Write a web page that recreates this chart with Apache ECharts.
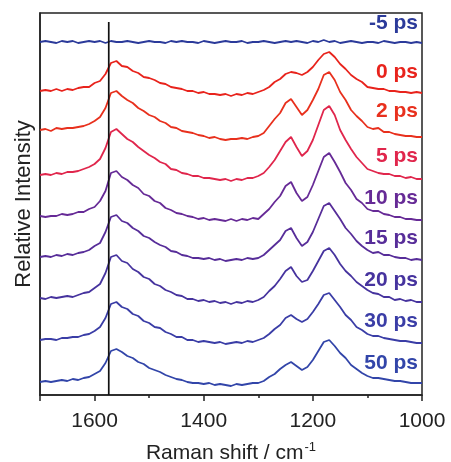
<!DOCTYPE html>
<html>
<head>
<meta charset="utf-8">
<script src="https://cdn.jsdelivr.net/npm/echarts@6/dist/echarts.min.js"></script>
<style>html,body{margin:0;padding:0;background:#fff}#c{width:451px;height:462px}</style>
</head>
<body>
<div id="c"></div>
<script>
// Raman shift grid (cm^-1)
var ramanShift = [1700,1690,1680,1670,1660,1650,1640,1630,1620,1610,
  1600,1590,1580,1570,1560,1550,1540,1530,1520,1510,
  1500,1490,1480,1470,1460,1450,1440,1430,1420,1410,
  1400,1390,1380,1370,1360,1350,1340,1330,1320,1310,
  1300,1290,1280,1270,1260,1250,1240,1230,1220,1210,
  1200,1190,1180,1170,1160,1150,1140,1130,1120,1110,
  1100,1090,1080,1070,1060,1050,1040,1030,1020,1010,1000];

var delayLabels = ['-5 ps','0 ps','2 ps','5 ps','10 ps','15 ps','20 ps','30 ps','50 ps'];
var traceColors = ['#2b3a9a','#e8231c','#e8301d','#e0264c','#662a96','#572d99','#46339e','#3a3da6','#3245a9'];
// vertical stacking offsets (relative intensity units)
var traceOffsets = [353,304,265,220,178,138,96,55,13];

// relative intensities for each delay
var int_m5 = [0,1,0,-1,1,0,1,-1,0,1, 0,1,-1,1,0,0,1,0,-1,0, 1,0,0,-1,1,0,1,0,0,-1, 1,0,-1,0,1,0,0,1,-1,0, 0,1,0,-1,0,1,0,1,0,-1, 1,0,2,0,1,-1,0,1,0,-1, 0,0,-1,1,0,-1,0,0,-1,0,-1];
var int_0 = [0,1,0,2,0,2,1,3,4,4, 8,10,17,28,30,25,24,20,18,14, 13,11,8,7,4,3,2,0,0,-2, -1,-3,-3,-4,-3,-5,-3,-4,-2,-3, -1,1,4,9,12,17,19,18,16,19, 24,31,37,39,34,27,22,16,12,9, 4,3,2,2,0,0,-1,-1,-2,-1,-2];
var int_2 = [0,1,-1,2,1,2,2,3,4,6, 9,13,22,37,39,34,30,27,22,19, 15,13,9,7,3,2,-1,-2,-3,-5, -6,-8,-7,-9,-10,-9,-9,-8,-9,-7, -6,-3,4,11,17,27,31,23,15,20, 30,41,55,58,50,38,30,20,14,9, 3,1,2,-2,-2,-4,-5,-6,-6,-7,-7];
var int_5 = [0,1,0,2,1,3,3,4,6,8, 11,16,27,43,46,41,36,33,28,24, 20,17,13,11,6,5,2,1,-1,-1, -3,-3,-4,-5,-4,-6,-4,-5,-3,-3, -1,2,8,15,24,33,38,28,19,24, 35,50,65,69,60,45,35,26,18,12, 6,4,2,1,1,-1,-1,-3,-2,-4,-4];
var int_10 = [1,0,1,1,3,2,3,5,5,8, 10,16,26,44,46,40,37,32,29,23, 21,16,14,9,7,4,3,1,0,-2, -1,-3,-2,-3,-4,-2,-4,-2,-3,-1, -2,3,8,15,21,31,35,24,16,20, 32,46,60,64,55,45,34,27,18,14, 8,6,6,3,2,0,0,-2,-2,-3,-3];
var int_15 = [0,1,0,2,1,3,2,4,5,7, 11,14,25,40,42,36,34,29,26,21, 19,15,12,10,6,5,2,1,-1,-1, -2,-1,-3,-2,-4,-3,-2,-3,-1,-2, -1,2,7,12,17,26,29,19,11,15, 25,38,51,54,46,38,29,23,16,11, 7,4,5,2,2,0,-1,-1,-3,-2,-3];
var int_20 = [1,0,2,1,2,3,2,4,6,7, 11,15,26,42,44,38,36,30,27,22, 20,15,13,9,7,4,3,0,0,-2, -1,-3,-2,-4,-3,-5,-3,-4,-2,-3, -1,2,8,13,20,28,32,23,17,19, 28,38,48,51,44,35,28,23,17,13, 9,6,5,2,2,-1,0,-2,-1,-3,-3];
var int_30 = [0,1,1,0,2,2,3,3,5,6, 9,13,22,36,38,33,31,26,24,19, 17,13,12,8,6,3,3,0,0,-2, -1,-2,-3,-2,-4,-3,-2,-3,-1,-2, 0,2,6,11,15,22,25,21,18,21, 28,36,45,47,40,33,25,20,13,10, 6,4,4,2,1,0,-1,-1,-2,-3,-3];
var int_50 = [0,1,0,1,2,1,3,2,4,5, 8,11,19,31,33,30,26,24,20,18, 14,12,10,7,5,3,2,0,-1,-1, -2,-1,-3,-2,-3,-4,-2,-3,-2,-1, -1,1,5,8,13,17,20,16,12,15, 22,31,40,42,36,29,24,17,13,9, 6,4,4,3,2,1,1,0,-1,-1,-1];

var intensities = [int_m5,int_0,int_2,int_5,int_10,int_15,int_20,int_30,int_50];

// reference band position and label height above each trace
var bandPosition = 1574;
var bandLineRange = [0, 373];
var labelLift = 19;

var FONT = 'Liberation Sans, Arial, Helvetica, sans-serif';
var series = [];
intensities.forEach(function (vals, k) {
  series.push({
    type: 'line', name: delayLabels[k], xAxisIndex: 0,
    showSymbol: false, symbol: 'none', animation: false,
    lineStyle: { color: traceColors[k], width: 1.8 },
    data: ramanShift.map(function (x, i) { return [x, traceOffsets[k] + vals[i]]; })
  });
});
series.push({
  type: 'scatter', xAxisIndex: 0, symbolSize: 0, animation: false, silent: true,
  itemStyle: { opacity: 1 },
  data: delayLabels.map(function (t, k) {
    return { value: [1000, traceOffsets[k] + labelLift], label: { color: traceColors[k], formatter: t } };
  }),
  label: { show: true, opacity: 1, position: 'left', distance: 4, fontSize: 21, fontWeight: 'bold', fontFamily: FONT }
});
series.push({
  type: 'line', xAxisIndex: 0, showSymbol: false, symbol: 'none', animation: false, z: 5,
  lineStyle: { color: '#111', width: 1.7 },
  data: [[bandPosition, bandLineRange[0]], [bandPosition, bandLineRange[1]]]
});

var chart = echarts.init(document.getElementById('c'), null, { renderer: 'canvas' });
chart.setOption({
  backgroundColor: '#fff',
  animation: false,
  grid: { left: 40, right: 29, top: 13, bottom: 67, containLabel: false, outerBoundsMode: 'none',
    show: true, borderColor: '#222', borderWidth: 1.5, backgroundColor: 'transparent' },
  xAxis: [{
    type: 'value', min: 1000, max: 1700, interval: 200, inverse: true,
    axisLine: { lineStyle: { color: '#222', width: 1.5 } },
    axisTick: { length: 6, lineStyle: { color: '#222', width: 1.5 } },
    splitLine: { show: false },
    axisLabel: { fontSize: 21, color: '#222', margin: 16, fontFamily: FONT,
      formatter: function (v) { return v === 1700 ? '' : String(v); } },
    name: '{a|Raman shift / cm}{s|-1}', nameLocation: 'middle', nameGap: 46,
    nameTextStyle: { rich: {
      a: { fontSize: 21, color: '#222', fontFamily: FONT },
      s: { fontSize: 13, color: '#222', fontFamily: FONT, verticalAlign: 'top', padding: [0, 0, 12, 1] } } }
  }, {
    type: 'value', min: 1000, max: 1700, interval: 100, inverse: true, position: 'bottom',
    axisLine: { show: false },
    axisTick: { length: 3, lineStyle: { color: '#222', width: 1.5 } },
    axisLabel: { show: false }, splitLine: { show: false }
  }],
  yAxis: {
    type: 'value', min: 0, max: 382,
    axisLine: { show: true, lineStyle: { color: '#222', width: 1.5 } },
    axisTick: { show: false }, axisLabel: { show: false }, splitLine: { show: false },
    name: 'Relative Intensity', nameLocation: 'middle', nameGap: 5,
    nameTextStyle: { fontSize: 22, color: '#222', fontFamily: FONT }
  },
  series: series
});
</script>
</body>
</html>
